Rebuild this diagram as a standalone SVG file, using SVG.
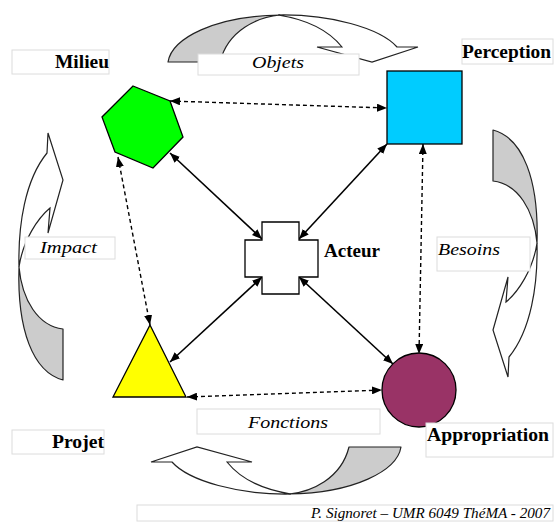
<svg xmlns="http://www.w3.org/2000/svg" width="554" height="522" viewBox="0 0 554 522">
<defs>
<style>
.box{fill:#fff;stroke:#dcdcdc;stroke-width:1}
.lbl{font-weight:bold;font-size:19px;fill:#000}
.it{font-style:italic;font-size:17px;fill:#000}
.gray{fill:#cccccc;stroke:#222;stroke-width:1.2;stroke-linejoin:round}
.wht{fill:#fff;stroke:#222;stroke-width:1.2;stroke-linejoin:miter}
.node{stroke:#000;stroke-width:1.3}
.sol{stroke:#000;stroke-width:1.6;fill:none;marker-start:url(#ah);marker-end:url(#ah)}
.dsh{stroke:#000;stroke-width:1.4;fill:none;stroke-dasharray:4 3;marker-start:url(#ah);marker-end:url(#ah)}
</style>
<marker id="ah" viewBox="0 0 10 8" refX="10" refY="4" markerWidth="10" markerHeight="8" markerUnits="userSpaceOnUse" orient="auto-start-reverse">
<path d="M0,0 L10,4 L0,8 z" fill="#000"/>
</marker>
<g id="curveTop">
<path class="gray" d="M168,62 C172,38 215,16 280,15 C258,17 228,30 220,62 Z"/>
<path class="wht" d="M278,15 C330,14 380,28 397,47 L418,47 L372,62 L317,47 L342,47 C330,32 310,20 278,15 Z"/>
</g>
<g id="curveLeft">
<path class="wht" d="M48,133 L63,180 L48,233 L50,208 C38,218 23,240 19,267 C18,225 25,180 47,153 Z"/>
<path class="gray" d="M19,267 C22,300 38,326 63,329 L63,380 C33,372 17,330 19,267 Z"/>
</g>
</defs>
<rect width="554" height="522" fill="#fff"/>

<g id="cycle-arrows">
<use href="#curveTop"/>
<use href="#curveTop" transform="rotate(180 284.5 254.5)"/>
<use href="#curveLeft"/>
<use href="#curveLeft" transform="rotate(180 278 255)"/>
</g>

<g id="labels" font-family="'Liberation Serif', 'Times New Roman', Times, serif">
<rect class="box" x="198" y="54" width="161" height="21"/>
<text class="it" x="252" y="68" textLength="52" lengthAdjust="spacingAndGlyphs">Objets</text>
<rect class="box" x="25" y="237" width="90" height="22"/>
<text class="it" x="40" y="253" textLength="57" lengthAdjust="spacingAndGlyphs">Impact</text>
<rect class="box" x="437" y="237" width="93" height="34"/>
<text class="it" x="438" y="255" textLength="62" lengthAdjust="spacingAndGlyphs">Besoins</text>
<rect class="box" x="197" y="409" width="183" height="25"/>
<text class="it" x="248" y="428" textLength="80" lengthAdjust="spacingAndGlyphs">Fonctions</text>
<rect class="box" x="137" y="505" width="416" height="16"/>
<text class="it" x="311" y="518" style="font-size:15px" textLength="239" lengthAdjust="spacingAndGlyphs">P. Signoret – UMR 6049 ThéMA - 2007</text>
</g>

<g id="connectors">
<line class="dsh" x1="170" y1="101" x2="387" y2="108"/>
<line class="dsh" x1="118" y1="157" x2="150" y2="325"/>
<line class="dsh" x1="423" y1="144" x2="419" y2="354"/>
<line class="dsh" x1="187" y1="397" x2="382" y2="390"/>
<line class="sol" x1="170" y1="153" x2="262" y2="239"/>
<line class="sol" x1="387" y1="144" x2="299" y2="239"/>
<line class="sol" x1="170" y1="362" x2="262" y2="277"/>
<line class="sol" x1="393" y1="364" x2="299" y2="277"/>
</g>

<g id="milieu" font-family="'Liberation Serif', 'Times New Roman', Times, serif">
<polygon class="node" fill="#00ff00" points="133,86 170,101 183,137 153,168 115,152 102,117"/>
<rect class="box" x="12" y="50" width="97" height="24"/>
<text class="lbl" x="55" y="68" textLength="54" lengthAdjust="spacingAndGlyphs">Milieu</text>
</g>

<g id="perception" font-family="'Liberation Serif', 'Times New Roman', Times, serif">
<rect class="node" fill="#00ccff" x="387" y="71" width="75" height="73"/>
<rect class="box" x="462" y="39" width="91" height="25"/>
<text class="lbl" x="462" y="58" textLength="89" lengthAdjust="spacingAndGlyphs">Perception</text>
</g>

<g id="acteur" font-family="'Liberation Serif', 'Times New Roman', Times, serif">
<path class="node" fill="#fff" d="M262,222 H299 V240 H318 V277 H299 V294 H262 V277 H245 V240 H262 Z"/>
<text class="lbl" x="324" y="257" textLength="56" lengthAdjust="spacingAndGlyphs">Acteur</text>
</g>

<g id="projet" font-family="'Liberation Serif', 'Times New Roman', Times, serif">
<polygon class="node" fill="#ffff00" points="150,325 186,397 113,397"/>
<rect class="box" x="12" y="430" width="92" height="24"/>
<text class="lbl" x="52" y="448" textLength="52" lengthAdjust="spacingAndGlyphs">Projet</text>
</g>

<g id="appropriation" font-family="'Liberation Serif', 'Times New Roman', Times, serif">
<circle class="node" fill="#993366" cx="419" cy="390" r="37"/>
<rect class="box" x="426" y="423" width="127" height="34"/>
<text class="lbl" x="427" y="441" textLength="122" lengthAdjust="spacingAndGlyphs">Appropriation</text>
</g>
</svg>
